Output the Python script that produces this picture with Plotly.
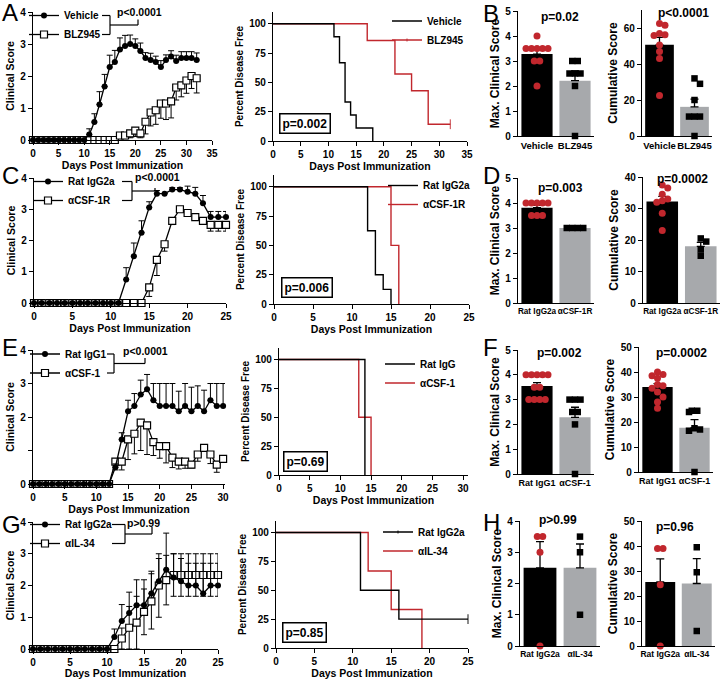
import math
import plotly.graph_objects as go

W, H = 724, 679
FONT = "Liberation Sans"
RED = "#c1272d"
GRAY = "#a7a9ac"

# ===================== DATA =====================
# ---- Row A / B : Vehicle vs BLZ945 ----
A_days = [0, 1, 2, 3, 4, 5, 6, 7, 8, 9, 10, 11, 12, 13, 14, 15, 16, 17, 18, 19, 20,
          21, 22, 23, 24, 25, 26, 27, 28, 29, 30, 31, 32]
A_ctrl = [0, 0, 0, 0, 0, 0, 0, 0, 0, 0, 0,
          0.17, 0.56, 1.11, 1.67, 2.28, 2.44, 2.83, 2.94, 3.00, 2.94, 2.78,
          2.56, 2.50, 2.44, 2.28, 2.50, 2.61, 2.47, 2.56, 2.56, 2.56, 2.50]
A_ctrl_err = [0, 0, 0, 0, 0, 0, 0, 0, 0, 0, 0,
              0.18, 0.26, 0.40, 0.38, 0.37, 0.36, 0.36, 0.33, 0.28, 0.22, 0.25,
              0.17, 0.21, 0.18, 0.20, 0.16, 0.18, 0.18, 0.20, 0.20, 0.20, 0.22]
A_trt = [0, 0, 0, 0, 0, 0, 0, 0, 0, 0, 0, 0, 0, 0, 0, 0, 0,
         0.14, 0.14, 0.21, 0.29, 0.21, 0.57, 0.86, 0.93, 1.14, 1.14, 1.21,
         1.64, 1.71, 1.86, 2.00, 1.93]
A_trt_err = [0, 0, 0, 0, 0, 0, 0, 0, 0, 0, 0, 0, 0, 0, 0, 0, 0,
             0.10, 0.10, 0.14, 0.18, 0.14, 0.38, 0.42, 0.44, 0.46, 0.50, 0.52,
             0.39, 0.36, 0.40, 0.39, 0.46]
A_labels = ["Vehicle", "BLZ945"]
A_surv_labels = ["Vehicle", "BLZ945"]
A_clin_p = "p<0.0001"
A_surv_ctrl_t = [0, 11, 12, 13, 14, 15, 18]
A_surv_ctrl_s = [100, 88.9, 66.7, 33.3, 22.2, 11.1, 0]
A_surv_ctrl_cens = [0, 0, 0, 0, 0, 0, 0]
A_surv_trt_t = [0, 17, 22, 25, 28, 32]
A_surv_trt_s = [100, 85.7, 57.1, 42.9, 14.3, 14.3]
A_surv_trt_cens = [0, 0, 0, 0, 0, 1]
A_surv_p = "p=0.002"
B_max_ctrl = [4.0, 3.5, 3.5, 3.5, 3.5, 3.5, 3.0, 3.0, 2.0]
B_max_trt = [3.0, 3.0, 2.5, 2.5, 2.5, 2.0, 0.0]
B_cum_ctrl = [62.5, 61.5, 57.0, 56.3, 55.8, 50.5, 47.0, 43.0, 22.5]
B_cum_trt = [32.0, 29.0, 20.0, 10.8, 10.8, 10.8, 0.0]
B_max_p = "p=0.02"
B_cum_p = "p<0.0001"

# ---- Row C / D : Rat IgG2a vs aCSF-1R ----
C_days = [0, 1, 2, 3, 4, 5, 6, 7, 8, 9, 10, 11, 12, 13, 14, 15, 16, 17, 18, 19, 20,
          21, 22, 23, 24, 25]
C_ctrl = [0, 0, 0, 0, 0, 0, 0, 0, 0, 0, 0, 0,
          0.75, 1.50, 2.25, 3.06, 3.50, 3.50, 3.63, 3.63, 3.56, 3.50, 3.19, 2.75, 2.75, 2.75]
C_ctrl_err = [0, 0, 0, 0, 0, 0, 0, 0, 0, 0, 0, 0,
              0.38, 0.42, 0.38, 0.18, 0.10, 0.00, 0.06, 0.06, 0.18, 0.20, 0.25, 0.18, 0.18, 0.18]
C_trt = [0, 0, 0, 0, 0, 0, 0, 0, 0, 0, 0, 0, 0, 0, 0,
         0.50, 1.38, 1.88, 2.63, 3.00, 2.88, 2.75, 2.63, 2.50, 2.50, 2.50]
C_trt_err = [0, 0, 0, 0, 0, 0, 0, 0, 0, 0, 0, 0, 0, 0, 0,
             0.29, 0.50, 0.22, 0.12, 0.00, 0.06, 0.06, 0.10, 0.20, 0.20, 0.20]
C_labels = ["Rat IgG2a", "αCSF-1R"]
C_surv_labels = ["Rat IgG2a", "αCSF-1R"]
C_clin_p = "p<0.0001"
C_surv_ctrl_t = [0, 12, 13, 14, 15]
C_surv_ctrl_s = [100, 62.5, 25, 12.5, 0]
C_surv_ctrl_cens = [0, 0, 0, 0, 0]
C_surv_trt_t = [0, 15, 16]
C_surv_trt_s = [100, 50, 0]
C_surv_trt_cens = [0, 0, 0]
C_surv_p = "p=0.006"
D_max_ctrl = [4.0, 4.0, 4.0, 4.0, 4.0, 3.5, 3.5, 3.5]
D_max_trt = [3.0, 3.0, 3.0, 3.0]
D_cum_ctrl = [37.5, 36.5, 34.5, 33.0, 32.5, 32.0, 28.5, 23.0]
D_cum_trt = [20.5, 19.5, 17.0, 15.0]
D_max_p = "p=0.003"
D_cum_p = "p=0.0002"

# ---- Row E / F : Rat IgG1 vs aCSF-1 ----
E_days = [0, 1, 2, 3, 4, 5, 6, 7, 8, 9, 10, 11, 12, 13, 14, 15, 16, 17, 18, 19, 20,
          21, 22, 23, 24, 25, 26, 27, 28, 29, 30]
E_ctrl = [0, 0, 0, 0, 0, 0, 0, 0, 0, 0, 0, 0, 0,
          0.50, 1.33, 2.17, 2.33, 2.67, 2.83, 2.50, 2.33, 2.33, 2.33, 2.17, 2.33,
          2.17, 2.33, 2.17, 2.50, 2.33, 2.33]
E_ctrl_err = [0, 0, 0, 0, 0, 0, 0, 0, 0, 0, 0, 0, 0,
              0.10, 0.20, 0.33, 0.37, 0.43, 0.44, 0.50, 0.67, 0.67, 0.67, 0.60, 0.67,
              0.72, 0.60, 0.63, 0.50, 0.67, 0.67]
E_trt = [0, 0, 0, 0, 0, 0, 0, 0, 0, 0, 0, 0, 0,
         0.67, 0.67, 1.33, 1.50, 1.83, 1.75, 1.25, 1.13, 1.13, 0.79, 0.67, 0.67,
         0.58, 0.88, 1.08, 0.88, 0.58, 0.75]
E_trt_err = [0, 0, 0, 0, 0, 0, 0, 0, 0, 0, 0, 0, 0,
             0.25, 0.25, 0.60, 0.60, 0.83, 0.87, 0.40, 0.36, 0.50, 0.30, 0.22, 0.20,
             0.10, 0.20, 0.10, 0.27, 0.23, 0.10]
E_labels = ["Rat IgG1", "αCSF-1"]
E_surv_labels = ["Rat IgG", "αCSF-1"]
E_clin_p = "p<0.0001"
E_surv_ctrl_t = [0, 14]
E_surv_ctrl_s = [100, 0]
E_surv_ctrl_cens = [0, 0]
E_surv_trt_t = [0, 13, 15]
E_surv_trt_s = [100, 50, 0]
E_surv_trt_cens = [0, 0, 0]
E_surv_p = "p=0.69"
F_max_ctrl = [4.0, 4.0, 4.0, 4.0, 4.0, 3.5, 3.5, 3.0, 3.0, 3.0, 3.0]
F_max_trt = [3.0, 3.0, 3.0, 2.5, 2.5, 2.0, 0.0]
F_cum_ctrl = [40.0, 39.0, 38.5, 37.5, 35.0, 34.5, 33.5, 32.0, 30.0, 28.0, 25.5]
F_cum_trt = [24.5, 24.5, 24.0, 17.5, 17.0, 16.5, 0.0]
F_max_p = "p=0.002"
F_cum_p = "p=0.0002"

# ---- Row G / H : Rat IgG2a vs aIL-34 ----
G_days = [0, 1, 2, 3, 4, 5, 6, 7, 8, 9, 10, 11, 12, 13, 14, 15, 16, 17, 18, 19, 20,
          21, 22, 23, 24, 25]
G_ctrl = [0, 0, 0, 0, 0, 0, 0, 0, 0, 0, 0,
          0.38, 0.88, 1.13, 1.38, 1.38, 1.75, 2.13, 2.50, 2.25, 2.13, 2.00, 2.00, 1.75, 2.00, 2.00]
G_ctrl_err = [0, 0, 0, 0, 0, 0, 0, 0, 0, 0, 0,
              0.25, 0.52, 0.66, 0.80, 0.80, 0.70, 0.72, 1.15, 0.75, 0.72, 0.70, 0.70, 0.95, 0.70, 0.70]
G_trt = [0, 0, 0, 0, 0, 0, 0, 0, 0, 0, 0, 0,
         0.33, 0.67, 0.83, 1.17, 1.50, 2.00, 2.17, 2.33, 2.33, 2.33, 2.33, 2.33, 2.33, 2.33]
G_trt_err = [0, 0, 0, 0, 0, 0, 0, 0, 0, 0, 0, 0,
             0.33, 0.67, 0.83, 0.72, 0.87, 1.00, 0.78, 0.67, 0.67, 0.67, 0.67, 0.67, 0.67, 0.67]
G_labels = ["Rat IgG2a", "αIL-34"]
G_surv_labels = ["Rat IgG2a", "αIL-34"]
G_clin_p = "p>0.99"
G_surv_ctrl_t = [0, 11, 16, 25]
G_surv_ctrl_s = [100, 50, 25, 25]
G_surv_ctrl_cens = [0, 0, 0, 1]
G_surv_trt_t = [0, 12, 15, 19]
G_surv_trt_s = [100, 66.7, 33.3, 0]
G_surv_trt_cens = [0, 0, 0, 0]
G_surv_p = "p=0.85"
H_max_ctrl = [3.5, 3.5, 3.0, 0.0]
H_max_trt = [3.5, 3.0, 1.0]
H_cum_ctrl = [39.0, 39.0, 24.5, 0.0]
H_cum_trt = [39.5, 29.5, 6.0]
H_max_p = "p>0.99"
H_cum_p = "p=0.96"

DAYS_TITLE = "Days Post Immunization"

# ===================== DATA TABLE (built from arrays) =====================
rows = [
    dict(days=A_days, ctrl=A_ctrl, ctrl_err=A_ctrl_err, trt=A_trt, trt_err=A_trt_err,
         trt_sym=False, labels=A_labels, clin_p=A_clin_p, surv_labels=A_surv_labels,
         sc=(A_surv_ctrl_t, A_surv_ctrl_s, A_surv_ctrl_cens),
         st=(A_surv_trt_t, A_surv_trt_s, A_surv_trt_cens), surv_p=A_surv_p,
         max=(B_max_ctrl, B_max_trt), cum=(B_cum_ctrl, B_cum_trt), max_p=B_max_p, cum_p=B_cum_p),
    dict(days=C_days, ctrl=C_ctrl, ctrl_err=C_ctrl_err, trt=C_trt, trt_err=C_trt_err,
         trt_sym=False, labels=C_labels, clin_p=C_clin_p, surv_labels=C_surv_labels,
         sc=(C_surv_ctrl_t, C_surv_ctrl_s, C_surv_ctrl_cens),
         st=(C_surv_trt_t, C_surv_trt_s, C_surv_trt_cens), surv_p=C_surv_p,
         max=(D_max_ctrl, D_max_trt), cum=(D_cum_ctrl, D_cum_trt), max_p=D_max_p, cum_p=D_cum_p),
    dict(days=E_days, ctrl=E_ctrl, ctrl_err=E_ctrl_err, trt=E_trt, trt_err=E_trt_err,
         trt_sym=False, labels=E_labels, clin_p=E_clin_p, surv_labels=E_surv_labels,
         sc=(E_surv_ctrl_t, E_surv_ctrl_s, E_surv_ctrl_cens),
         st=(E_surv_trt_t, E_surv_trt_s, E_surv_trt_cens), surv_p=E_surv_p,
         max=(F_max_ctrl, F_max_trt), cum=(F_cum_ctrl, F_cum_trt), max_p=F_max_p, cum_p=F_cum_p),
    dict(days=G_days, ctrl=G_ctrl, ctrl_err=G_ctrl_err, trt=G_trt, trt_err=G_trt_err,
         trt_sym=True, labels=G_labels, clin_p=G_clin_p, surv_labels=G_surv_labels,
         sc=(G_surv_ctrl_t, G_surv_ctrl_s, G_surv_ctrl_cens),
         st=(G_surv_trt_t, G_surv_trt_s, G_surv_trt_cens), surv_p=G_surv_p,
         max=(H_max_ctrl, H_max_trt), cum=(H_cum_ctrl, H_cum_trt), max_p=H_max_p, cum_p=H_cum_p),
]

# ===================== LAYOUT GEOMETRY (pixels) =====================
geoms = [
    dict(clin=(33, 212, 12, 140), clin_x=[0, 35], clin_xt=[0, 5, 10, 15, 20, 25, 30, 35], clin_ytt=None,
         surv=(273, 467, 12, 141), surv_x=[0, 35], surv_xt=[0, 5, 10, 15, 20, 25, 30, 35],
         bar1=(518, 594, 11, 136), bar1_y=[0, 5], bar1_yt=[0, 1, 2, 3, 4, 5],
         bar2=(642, 712, 10, 136), bar2_y=[0, 70], bar2_yt=[0, 20, 40, 60], bar_xfs=9.5,
         leg_clin=(24, 1), leg_surv=(387, 6.5), bracket=(102, 110, 138, 19.5), ptext=(139, 12),
         pbox=(305, 123), p1=(560, 17), p2=(683, 13), letters=(("A", 0, 12.5), ("B", 481, 13))),
    dict(clin=(34, 226, 178, 303), clin_x=[0, 25], clin_xt=[0, 5, 10, 15, 20, 25], clin_ytt=None,
         surv=(274, 469, 175, 304), surv_x=[0, 25], surv_xt=[0, 5, 10, 15, 20, 25],
         bar1=(518, 594, 178, 303), bar1_y=[0, 5], bar1_yt=[0, 1, 2, 3, 4, 5],
         bar2=(643, 720, 177, 303), bar2_y=[0, 40], bar2_yt=[0, 10, 20, 30, 40], bar_xfs=8.2,
         leg_clin=(28, 167), leg_surv=(383, 171), bracket=(122, 132, 155, 188), ptext=(157, 177),
         pbox=(307, 287), p1=(560, 188), p2=(682, 179), letters=(("C", 0, 176), ("D", 481, 176))),
    dict(clin=(33, 225, 350, 484), clin_x=[0, 30.3], clin_xt=[0, 5, 10, 15, 20, 25, 30],
         clin_ytt=["0", "", "2", "3", "4"],
         surv=(279, 468, 348, 475), surv_x=[0, 30.8], surv_xt=[0, 5, 10, 15, 20, 25, 30],
         bar1=(518, 594, 350, 474), bar1_y=[0, 5], bar1_yt=[0, 1, 2, 3, 4, 5],
         bar2=(639, 713, 347, 472), bar2_y=[0, 50], bar2_yt=[0, 10, 20, 30, 40, 50], bar_xfs=9,
         leg_clin=(25, 339.5), leg_surv=(380, 349.5), bracket=(107, 114, 145, 358), ptext=(145, 351),
         pbox=(305, 461), p1=(559, 353), p2=(681, 353), letters=(("E", 0, 347), ("F", 481, 347))),
    dict(clin=(33, 218, 522, 649), clin_x=[0, 25], clin_xt=[0, 5, 10, 15, 20, 25], clin_ytt=None,
         surv=(276, 468, 521, 648), surv_x=[0, 25], surv_xt=[0, 5, 10, 15, 20, 25],
         bar1=(520, 600, 521, 646), bar1_y=[0, 4], bar1_yt=[0, 1, 2, 3, 4],
         bar2=(642, 715, 521, 646), bar2_y=[0, 50], bar2_yt=[0, 10, 20, 30, 40, 50], bar_xfs=8.5,
         leg_clin=(25, 510), leg_surv=(378, 517.5), bracket=(112, 125, 152, 527), ptext=(143, 523),
         pbox=(304, 632), p1=(558, 520), p2=(675, 527), letters=(("G", 0, 524.5), ("H", 481, 522.5))),
]


def bold(size):
    return dict(family=FONT, size=size, color="black", weight="bold")


def px(x):
    return x / W


def py(y):
    return 1 - y / H


def ids(i):
    return ("x" if i == 1 else f"x{i}", "y" if i == 1 else f"y{i}")


def mean(v):
    return sum(v) / len(v)


def sem(v):
    m = mean(v)
    if len(v) < 2:
        return 0
    return math.sqrt(sum((a - m) ** 2 for a in v) / (len(v) - 1)) / math.sqrt(len(v))


def swarm(vals, ppu_y, ppu_x, d=5.5):
    n = len(vals)
    order = sorted(range(n), key=lambda k: -vals[k])
    placed = []
    off = [0.0] * n
    cands = [0.0]
    for m in range(1, 12):
        cands += [m * d, -m * d]
    for k in order:
        yk = vals[k] * ppu_y
        for c in cands:
            if all(math.hypot(c - a, yk - b) >= d * 0.999 for a, b in placed):
                off[k] = c
                placed.append((c, yk))
                break
    groups = {}
    for k in range(n):
        groups.setdefault(vals[k], []).append(k)
    for ks in groups.values():
        if len(ks) > 1:
            mm = sum(off[k] for k in ks) / len(ks)
            for k in ks:
                off[k] -= mm
    return [o / ppu_x for o in off]


layout = dict(width=W, height=H, margin=dict(l=0, r=0, t=0, b=0, autoexpand=False),
              paper_bgcolor="white", plot_bgcolor="white",
              font=dict(family=FONT, size=10, color="black"),
              showlegend=True)
annotations = []
shapes = []
traces = []


def add_axes(i, rect, xr, yr, xtv=None, xtt=None, ytv=None, ytt=None,
             xtitle=None, ytitle=None, ytitle_size=10.5, xticks="outside", xfs=10):
    l, r, t, b = rect
    common = dict(showline=True, linecolor="black", linewidth=1.3, tickcolor="black",
                  tickwidth=1.3, ticklen=4, showgrid=False, zeroline=False, fixedrange=True,
                  tickmode="array", tickangle=0)
    xa, ya = ids(i)
    xd = dict(common, domain=[l / W, r / W], range=xr, anchor=ya, tickvals=xtv, ticks=xticks,
              tickfont=bold(xfs))
    if xtt is not None:
        xd["ticktext"] = xtt
    if xtitle:
        xd["title"] = dict(text=xtitle, font=bold(10.5), standoff=3)
    yd = dict(common, domain=[1 - b / H, 1 - t / H], range=yr, anchor=xa, tickvals=ytv,
              ticks="outside", tickfont=bold(10))
    if ytt is not None:
        yd["ticktext"] = ytt
    if ytitle:
        yd["title"] = dict(text=ytitle, font=bold(ytitle_size), standoff=3)
    layout["xaxis" if i == 1 else f"xaxis{i}"] = xd
    layout["yaxis" if i == 1 else f"yaxis{i}"] = yd


def legend_cfg(x, top):
    return dict(x=px(x), y=py(top), xanchor="left", yanchor="top", xref="paper", yref="paper",
                bgcolor="rgba(0,0,0,0)", borderwidth=0, font=bold(10), itemwidth=30,
                traceorder="normal", itemclick=False, itemdoubleclick=False)


for r, (d, g) in enumerate(zip(rows, geoms)):
    i_clin, i_surv, i_b1, i_b2 = 4 * r + 1, 4 * r + 2, 4 * r + 3, 4 * r + 4
    leg_c = "legend" if r == 0 else f"legend{2 * r + 1}"
    leg_s = f"legend{2 * r + 2}"

    # ---------- clinical score ----------
    add_axes(i_clin, g["clin"], g["clin_x"], [0, 4], xtv=g["clin_xt"],
             ytv=[0, 1, 2, 3, 4], ytt=g["clin_ytt"], xtitle=DAYS_TITLE, ytitle="Clinical Score")
    xa, ya = ids(i_clin)
    no_err = [0 for _ in d["trt"]]
    traces.append(go.Scatter(
        x=d["days"], y=d["trt"], mode="lines+markers", name=d["labels"][1],
        line=dict(color="black", width=1.3),
        marker=dict(symbol="square", size=7, color="white", line=dict(color="black", width=1.2)),
        error_y=dict(type="data", symmetric=False, array=d["trt_err"] if d["trt_sym"] else no_err,
                     arrayminus=d["trt_err"], color="black", thickness=1, width=3),
        xaxis=xa, yaxis=ya, legend=leg_c, legendrank=2, cliponaxis=False, hoverinfo="skip"))
    traces.append(go.Scatter(
        x=d["days"], y=d["ctrl"], mode="lines+markers", name=d["labels"][0],
        line=dict(color="black", width=1.3),
        marker=dict(symbol="circle", size=6, color="black"),
        error_y=dict(type="data", symmetric=False, array=d["ctrl_err"],
                     arrayminus=[0 for _ in d["ctrl"]], color="black", thickness=1, width=3),
        xaxis=xa, yaxis=ya, legend=leg_c, legendrank=1, cliponaxis=False, hoverinfo="skip"))
    layout[leg_c] = legend_cfg(*g["leg_clin"])

    # bracket + p text
    top = g["leg_clin"][1]
    y1, y2 = top + 14.5, top + 33.5
    ym = (y1 + y2) / 2
    xl, xm, xr_, ytick = g["bracket"]
    for (ax0, ay0, ax1, ay1) in [(xl, y1, xm, y1), (xl, y2, xm, y2), (xm, y1, xm, y2),
                                 (xm, ym, xr_, ym), (xr_, ym, xr_, ytick)]:
        shapes.append(dict(type="line", xref="paper", yref="paper",
                           x0=px(ax0), y0=py(ay0), x1=px(ax1), y1=py(ay1),
                           line=dict(color="black", width=1.2)))
    annotations.append(dict(text=d["clin_p"], x=px(g["ptext"][0]), y=py(g["ptext"][1]),
                            xref="paper", yref="paper", showarrow=False,
                            xanchor="center", yanchor="middle", font=bold(10.5)))

    # ---------- survival ----------
    add_axes(i_surv, g["surv"], g["surv_x"], [0, 110], xtv=g["surv_xt"],
             ytv=[0, 25, 50, 75, 100], xtitle=DAYS_TITLE, ytitle="Percent Disease Free",
             ytitle_size=10)
    xa, ya = ids(i_surv)
    for (t, s, c), color, name, rank in [(d["st"], RED, d["surv_labels"][1], 2),
                                         (d["sc"], "black", d["surv_labels"][0], 1)]:
        has_c = any(c)
        traces.append(go.Scatter(
            x=t, y=s, mode="lines+markers" if has_c else "lines", name=name,
            line=dict(color=color, width=1.4, shape="hv"),
            marker=dict(symbol="line-ns-open", size=[7 * k for k in c],
                        line=dict(color=color, width=1.3)),
            xaxis=xa, yaxis=ya, legend=leg_s, legendrank=rank, cliponaxis=False, hoverinfo="skip"))
    layout[leg_s] = legend_cfg(*g["leg_surv"])
    annotations.append(dict(text=d["surv_p"], x=px(g["pbox"][0]), y=py(g["pbox"][1]),
                            xref="paper", yref="paper", showarrow=False,
                            xanchor="center", yanchor="middle", font=bold(12),
                            bordercolor="black", borderwidth=1.5, borderpad=2, bgcolor="white"))

    # ---------- bar charts ----------
    for i_b, key, rk, yrk, ytk, title, pkey, ppos in [
        (i_b1, "max", "bar1", "bar1_y", "bar1_yt", "Max. Clinical Score", "max_p", "p1"),
        (i_b2, "cum", "bar2", "bar2_y", "bar2_yt", "Cumulative Score", "cum_p", "p2"),
    ]:
        rect = g[rk]
        add_axes(i_b, rect, [-0.5, 1.5], g[yrk], xtv=[0, 1], xtt=d["labels"],
                 ytv=g[ytk], ytitle=title, ytitle_size=12, xticks="", xfs=g["bar_xfs"])
        xa, ya = ids(i_b)
        ctrl, trt = d[key]
        traces.append(go.Bar(
            x=[0, 1], y=[mean(ctrl), mean(trt)], width=0.82,
            marker=dict(color=["black", GRAY], line=dict(width=0)),
            error_y=dict(type="data", symmetric=False, array=[sem(ctrl), sem(trt)],
                         arrayminus=[0, 0], color="black", thickness=1.3, width=4),
            xaxis=xa, yaxis=ya, showlegend=False, hoverinfo="skip"))
        l, rr, t, b = rect
        ppu_x = (rr - l) / 2.0
        ppu_y = (b - t) / (g[yrk][1] - g[yrk][0])
        for pos, vals, sym, col in [(0, ctrl, "circle", RED), (1, trt, "square", "black")]:
            offs = swarm(vals, ppu_y, ppu_x)
            traces.append(go.Scatter(
                x=[pos + o for o in offs], y=vals, mode="markers",
                marker=dict(symbol=sym, size=7 if sym == "circle" else 6.5, color=col,
                            line=dict(width=0)),
                xaxis=xa, yaxis=ya, showlegend=False, cliponaxis=False, hoverinfo="skip"))
        annotations.append(dict(text=d[pkey], x=px(g[ppos][0]), y=py(g[ppos][1]),
                                xref="paper", yref="paper", showarrow=False,
                                xanchor="center", yanchor="middle", font=bold(12)))

    # ---------- panel letters ----------
    for letter, lx, ly in g["letters"]:
        annotations.append(dict(text=letter, x=px(lx), y=py(ly), xref="paper", yref="paper",
                                showarrow=False, xanchor="left", yanchor="middle",
                                font=dict(family=FONT, size=24, color="black")))

layout["annotations"] = annotations
layout["shapes"] = shapes

fig = go.Figure(data=traces, layout=layout)
fig.write_html("out.html", config={"displayModeBar": False},
               post_script="document.body.style.margin='0px';document.body.style.padding='0px';"
                           "document.documentElement.style.overflow='hidden';")
